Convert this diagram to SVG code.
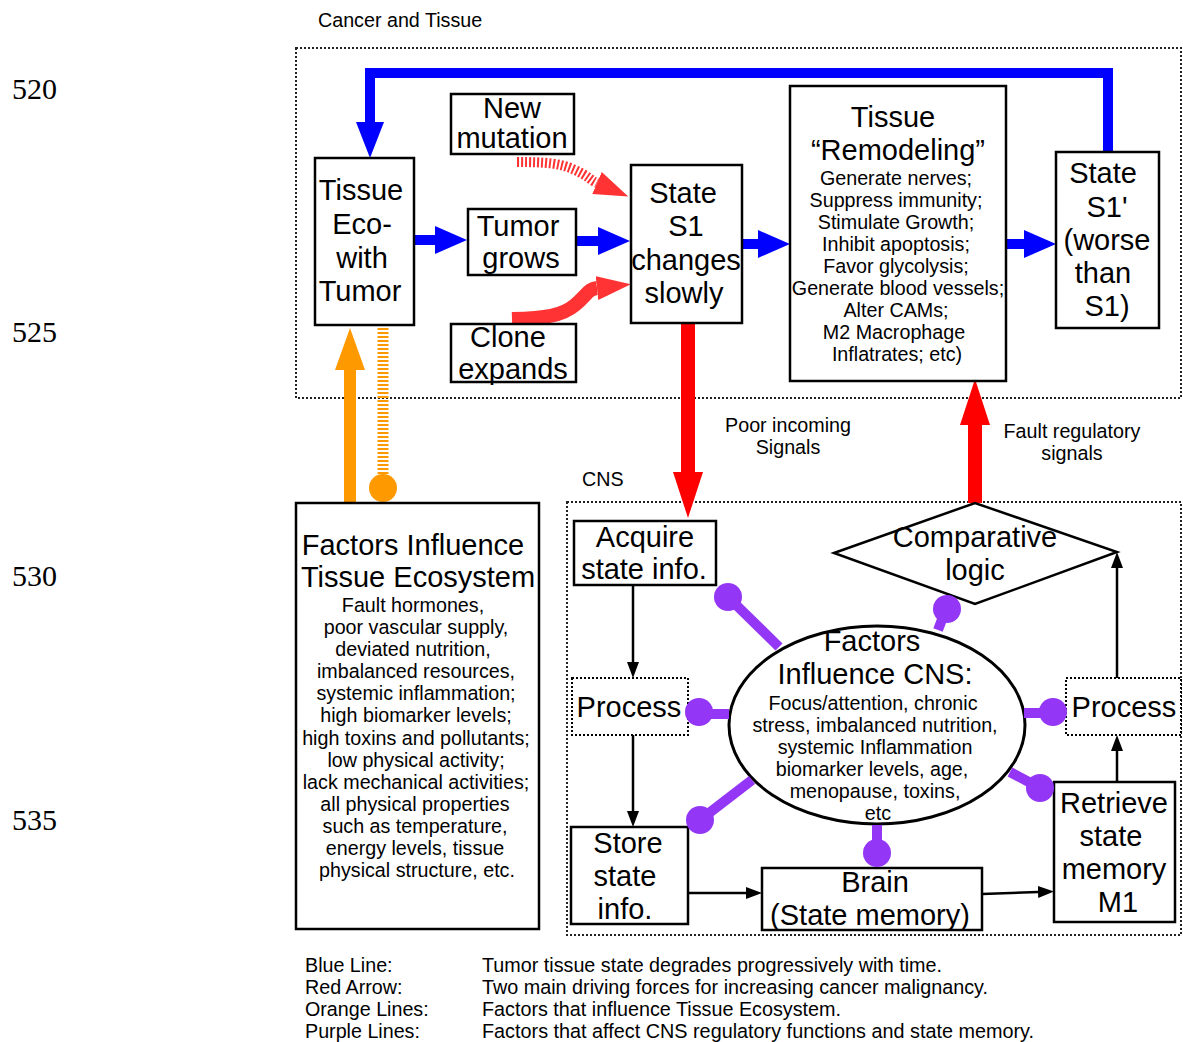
<svg xmlns="http://www.w3.org/2000/svg" width="1183" height="1042" viewBox="0 0 1183 1042">
<style>
text{font-family:"Liberation Sans",Arial,sans-serif;fill:#000}
.num{font-family:"Liberation Serif","Times New Roman",serif;font-size:30px}
.big{font-size:29px;text-anchor:middle}
.sm{font-size:19.7px;text-anchor:middle}
.lbl{font-size:19.7px}
.box{fill:#fff;stroke:#000;stroke-width:2.5}
.dbox{fill:#fff;stroke:#000;stroke-width:2;stroke-dasharray:2 2}
.group{fill:none;stroke:#222;stroke-width:2;stroke-dasharray:2 2}
.blue{fill:none;stroke:#0000ff;stroke-width:10}
.black{fill:none;stroke:#000;stroke-width:2.5}
.purple{fill:none;stroke:#9436f5;stroke-width:10}
.pdot{fill:#9436f5}
</style>
<defs>
<marker id="hb" markerUnits="userSpaceOnUse" markerWidth="32" markerHeight="28" viewBox="0 0 32 28" refX="0" refY="14" orient="auto"><path d="M0,0L32,14L0,28z" fill="#0000ff"/></marker>
<marker id="hb2" markerUnits="userSpaceOnUse" markerWidth="36" markerHeight="28" viewBox="0 0 36 28" refX="0" refY="14" orient="auto"><path d="M0,0L36,14L0,28z" fill="#0000ff"/></marker>
<marker id="hr" markerUnits="userSpaceOnUse" markerWidth="46" markerHeight="30" viewBox="0 0 46 30" refX="0" refY="15" orient="auto"><path d="M0,0L46,15L0,30z" fill="#ff0000"/></marker>
<marker id="hr2" markerUnits="userSpaceOnUse" markerWidth="34" markerHeight="24" viewBox="0 0 34 24" refX="0" refY="12" orient="auto"><path d="M0,0L34,12L0,24z" fill="#ff3333"/></marker>
<marker id="ho" markerUnits="userSpaceOnUse" markerWidth="42" markerHeight="30" viewBox="0 0 42 30" refX="0" refY="15" orient="auto"><path d="M0,0L42,15L0,30z" fill="#ff9900"/></marker>
<marker id="hk" markerUnits="userSpaceOnUse" markerWidth="16" markerHeight="12" viewBox="0 0 16 12" refX="0" refY="6" orient="auto"><path d="M0,0L16,6L0,12z" fill="#000"/></marker>
</defs>
<rect width="1183" height="1042" fill="#fff"/>

<g id="margin">
<text class="num" x="12" y="99">520</text>
<text class="num" x="12" y="342">525</text>
<text class="num" x="12" y="586">530</text>
<text class="num" x="12" y="830">535</text>
</g>

<g id="group-cancer">
<text class="lbl" x="318" y="27">Cancer and Tissue</text>
<rect class="group" x="296" y="48" width="885" height="350"/>
</g>
<g id="group-cns">
<text class="lbl" x="582" y="486">CNS</text>
<rect class="group" x="567" y="502" width="614" height="433"/>
</g>

<g id="connectors">
<path class="blue" stroke-width="7" d="M1108,152V73H370V122" marker-end="url(#hb2)"/>
<path class="blue" d="M414,240H435" marker-end="url(#hb)"/>
<path class="blue" d="M576,241H598" marker-end="url(#hb)"/>
<path class="blue" d="M742,244H758" marker-end="url(#hb)"/>
<path class="blue" d="M1006,244H1024" marker-end="url(#hb)"/>
<path d="M517,162C545,162 560,163 575,170S590,180 597,183" fill="none" stroke="#ff3333" stroke-width="10" stroke-dasharray="2 2" marker-end="url(#hr2)"/>
<path d="M512,319C545,318 562,316 575,305S588,289 597,288" fill="none" stroke="#ff3333" stroke-width="14" marker-end="url(#hr2)"/>
<path d="M688,323V472" fill="none" stroke="#ff0000" stroke-width="14" marker-end="url(#hr)"/>
<path d="M975,503V425" fill="none" stroke="#ff0000" stroke-width="14" marker-end="url(#hr)"/>
<path d="M350,505V370" fill="none" stroke="#ff9900" stroke-width="12" marker-end="url(#ho)"/>
<path d="M383,328V478" fill="none" stroke="#ff9900" stroke-width="11" stroke-dasharray="2 2"/>
<circle cx="383" cy="488" r="14" fill="#ff9900"/>
<path class="black" d="M633,585V662" marker-end="url(#hk)"/>
<path class="black" d="M633,735V811" marker-end="url(#hk)"/>
<path class="black" d="M688,893H746" marker-end="url(#hk)"/>
<path class="black" d="M982,894L1038,892" marker-end="url(#hk)"/>
<path class="black" d="M1117,782V751" marker-end="url(#hk)"/>
<path class="black" d="M1117,678V568" marker-end="url(#hk)"/>
</g>

<g id="node-tissue-eco">
<rect class="box" x="315" y="158" width="99" height="167"/>
<text class="big" x="361" y="200">Tissue</text>
<text class="big" x="362" y="234">Eco-</text>
<text class="big" x="362" y="268">with</text>
<text class="big" x="360" y="301">Tumor</text>
</g>
<g id="node-new-mutation">
<rect class="box" x="451" y="94" width="123" height="60"/>
<text class="big" x="512" y="118">New</text>
<text class="big" x="512" y="148">mutation</text>
</g>
<g id="node-tumor-grows">
<rect class="box" x="468" y="209" width="108" height="66"/>
<text class="big" x="518" y="236">Tumor</text>
<text class="big" x="521" y="268">grows</text>
</g>
<g id="node-clone">
<rect class="box" x="451" y="324" width="125" height="58"/>
<text class="big" x="508" y="347">Clone</text>
<text class="big" x="513" y="379">expands</text>
</g>
<g id="node-state-s1">
<rect class="box" x="631" y="165" width="111" height="158"/>
<text class="big" x="683" y="203">State</text>
<text class="big" x="686" y="236">S1</text>
<text class="big" x="686" y="270">changes</text>
<text class="big" x="684" y="303">slowly</text>
</g>
<g id="node-remodeling">
<rect class="box" x="790" y="86" width="216" height="295"/>
<text class="big" x="893" y="127">Tissue</text>
<text class="big" x="898" y="160">“Remodeling”</text>
<text class="sm" x="896" y="185">Generate nerves;</text>
<text class="sm" x="896" y="207">Suppress immunity;</text>
<text class="sm" x="896" y="229">Stimulate Growth;</text>
<text class="sm" x="896" y="251">Inhibit apoptosis;</text>
<text class="sm" x="896" y="273">Favor glycolysis;</text>
<text class="sm" x="898" y="295">Generate blood vessels;</text>
<text class="sm" x="896" y="317">Alter CAMs;</text>
<text class="sm" x="894" y="339">M2 Macrophage</text>
<text class="sm" x="897" y="361">Inflatrates; etc)</text>
</g>
<g id="node-state-s1p">
<rect class="box" x="1056" y="152" width="103" height="176"/>
<text class="big" x="1103" y="183">State</text>
<text class="big" x="1107" y="217">S1'</text>
<text class="big" x="1107" y="250">(worse</text>
<text class="big" x="1103" y="283">than</text>
<text class="big" x="1107" y="316">S1)</text>
</g>
<g id="node-factors-tissue">
<rect class="box" x="296" y="503" width="243" height="426"/>
<text class="big" x="413" y="555">Factors Influence</text>
<text class="big" x="418" y="587">Tissue Ecosystem</text>
<text class="sm" x="413" y="612">Fault hormones,</text>
<text class="sm" x="416" y="634">poor vascular supply,</text>
<text class="sm" x="413" y="656">deviated nutrition,</text>
<text class="sm" x="416" y="678">imbalanced resources,</text>
<text class="sm" x="416" y="700">systemic inflammation;</text>
<text class="sm" x="416" y="722">high biomarker levels;</text>
<text class="sm" x="416" y="745">high toxins and pollutants;</text>
<text class="sm" x="416" y="767">low physical activity;</text>
<text class="sm" x="416" y="789">lack mechanical activities;</text>
<text class="sm" x="415" y="811">all physical properties</text>
<text class="sm" x="415" y="833">such as temperature,</text>
<text class="sm" x="415" y="855">energy levels, tissue</text>
<text class="sm" x="417" y="877">physical structure, etc.</text>
</g>
<g id="labels">
<text class="sm" x="788" y="432">Poor incoming</text>
<text class="sm" x="788" y="454">Signals</text>
<text class="sm" x="1072" y="438">Fault regulatory</text>
<text class="sm" x="1072" y="460">signals</text>
</g>
<g id="node-acquire">
<rect class="box" x="574" y="521" width="142" height="64"/>
<text class="big" x="645" y="547">Acquire</text>
<text class="big" x="644" y="579">state info.</text>
</g>
<g id="node-process-left">
<rect class="dbox" x="572" y="678" width="116" height="57"/>
<text class="big" x="629" y="717">Process</text>
</g>
<g id="node-store">
<rect class="box" x="571" y="827" width="117" height="97"/>
<text class="big" x="628" y="853">Store</text>
<text class="big" x="625" y="886">state</text>
<text class="big" x="625" y="919">info.</text>
</g>
<g id="node-brain">
<rect class="box" x="762" y="868" width="220" height="62"/>
<text class="big" x="875" y="892">Brain</text>
<text class="big" x="870" y="925">(State memory)</text>
</g>
<g id="node-retrieve">
<rect class="box" x="1054" y="782" width="121" height="140"/>
<text class="big" x="1114" y="813">Retrieve</text>
<text class="big" x="1111" y="846">state</text>
<text class="big" x="1114" y="879">memory</text>
<text class="big" x="1118" y="912">M1</text>
</g>
<g id="node-process-right">
<rect class="dbox" x="1066" y="678" width="115" height="57"/>
<text class="big" x="1124" y="717">Process</text>
</g>
<g id="node-comparative">
<polygon points="834,553 975,503 1117,552 975,604" fill="#fff" stroke="#000" stroke-width="2.5"/>
<text class="big" x="975" y="547">Comparative</text>
<text class="big" x="975" y="580">logic</text>
</g>
<g id="node-factors-cns">
<ellipse cx="877" cy="725" rx="148" ry="99" fill="#fff" stroke="#000" stroke-width="3"/>
<text class="big" x="872" y="651">Factors</text>
<text class="big" x="875" y="684">Influence CNS:</text>
<text class="sm" x="873" y="710">Focus/attention, chronic</text>
<text class="sm" x="875" y="732">stress, imbalanced nutrition,</text>
<text class="sm" x="875" y="754">systemic Inflammation</text>
<text class="sm" x="872" y="776">biomarker levels, age,</text>
<text class="sm" x="875" y="798">menopause, toxins,</text>
<text class="sm" x="878" y="820">etc</text>
</g>
<g id="purple-connectors">
<path class="purple" d="M779,647L728,597"/><circle class="pdot" cx="728" cy="597" r="14"/>
<path class="purple" d="M938,630L946,609"/><circle class="pdot" cx="947" cy="609" r="14"/>
<path class="purple" d="M729,714H700"/><circle class="pdot" cx="699" cy="712" r="14"/>
<path class="purple" d="M752,780L700,820"/><circle class="pdot" cx="700" cy="820" r="14"/>
<path class="purple" d="M877,825V852"/><circle class="pdot" cx="877" cy="853" r="14"/>
<path class="purple" d="M1024,713H1053"/><circle class="pdot" cx="1053" cy="712" r="14"/>
<path class="purple" d="M1010,772L1040,788"/><circle class="pdot" cx="1040" cy="788" r="14"/>
</g>

<g id="legend">
<text class="lbl" x="305" y="972">Blue Line:</text>
<text class="lbl" x="305" y="994">Red Arrow:</text>
<text class="lbl" x="305" y="1016">Orange Lines:</text>
<text class="lbl" x="305" y="1038">Purple Lines:</text>
<text class="lbl" x="482" y="972" textLength="460" lengthAdjust="spacingAndGlyphs">Tumor tissue state degrades progressively with time.</text>
<text class="lbl" x="482" y="994" textLength="506" lengthAdjust="spacingAndGlyphs">Two main driving forces for increasing cancer malignancy.</text>
<text class="lbl" x="482" y="1016" textLength="359" lengthAdjust="spacingAndGlyphs">Factors that influence Tissue Ecosystem.</text>
<text class="lbl" x="482" y="1038" textLength="552" lengthAdjust="spacingAndGlyphs">Factors that affect CNS regulatory functions and state memory.</text>
</g>
</svg>
